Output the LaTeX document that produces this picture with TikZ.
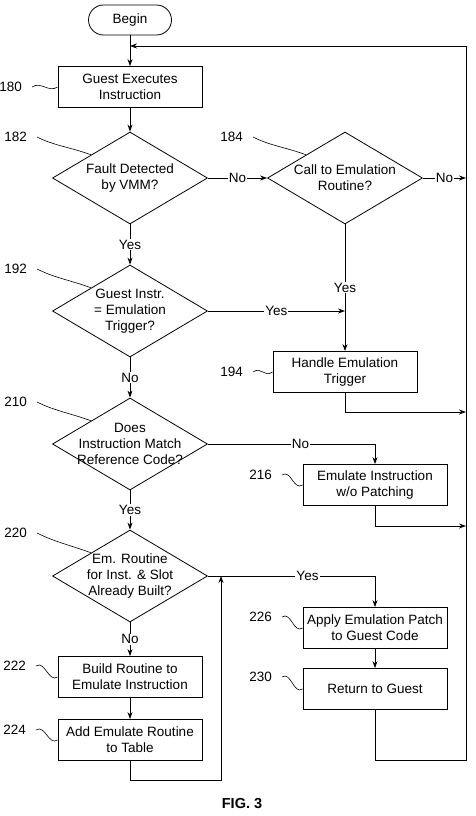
\documentclass[tikz,border=0pt]{standalone}
\usepackage{fontspec}
\setmainfont{Liberation Sans}
\usetikzlibrary{shapes.geometric,arrows.meta,positioning}

\begin{document}
\begin{tikzpicture}[
		x=1pt, y=-1pt,
		font=\fontsize{13.5}{16}\selectfont,
		main/.style={
			line width=0.8pt,
			color=black
			},
		flow/.style={main, -{Stealth[length=7pt,width=5pt]}},
		lead/.style={main, line width=0.6pt},
		term/.style={main, draw, rectangle, rounded corners=15pt, minimum width=83pt, minimum height=30pt, inner sep=0pt},
		process/.style={main, draw, rectangle, minimum width=144pt, minimum height=41pt, inner sep=0pt, align=center},
		decision/.style={main, draw, diamond, minimum width=155pt, minimum height=92pt, inner xsep=-40pt, inner ysep=-20pt, align=center},
		refnum/.style={anchor=east, inner sep=0pt},
		answer/.style={fill=white, inner sep=1pt}
		]
		
		\useasboundingbox (0,0) rectangle (475,816);
		
		\node[term] (begin) at (130,20) {Begin};
		\node[process] (p180) at (130,87) {Guest Executes\\Instruction};
		\node[decision] (d182) at (130,178) {Fault Detected\\by VMM?};
		\node[decision] (d184) at (345,178) {Call to Emulation\\Routine?};
		\node[decision] (d192) at (130,311) {Guest Instr.\\= Emulation\\Trigger?};
		\node[process] (p194) at (345,372) {Handle Emulation\\Trigger};
		\node[decision] (d210) at (130,444) {Does\\Instruction Match\\Reference Code?};
		\node[process] (p216) at (375,485) {Emulate Instruction\\w/o Patching};
		\node[decision] (d220) at (130,576) {Em. Routine\\for Inst. \& Slot\\Already Built?};
		\node[process] (p222) at (130,677) {Build Routine to\\Emulate Instruction};
		\node[process] (p224) at (130,740) {Add Emulate Routine\\to Table};
		\node[process] (p226) at (375,628) {Apply Emulation Patch\\to Guest Code};
		\node[process] (p230) at (375,689) {Return to Guest};
		
		\node[refnum] (n180) at (22,87) {180};
		\node[refnum] (n182) at (27,137) {182};
		\node[refnum] (n184) at (243,137) {184};
		\node[refnum] (n192) at (27,269) {192};
		\node[refnum] (n194) at (243,372) {194};
		\node[refnum] (n210) at (27,402) {210};
		\node[refnum] (n216) at (272,475) {216};
		\node[refnum] (n220) at (27,533) {220};
		\node[refnum] (n222) at (26,666) {222};
		\node[refnum] (n224) at (26,730) {224};
		\node[refnum] (n226) at (272,617) {226};
		\node[refnum] (n230) at (272,677) {230};
		
		\node[font=\fontsize{14.5}{17}\selectfont\bfseries] (fig) at (242,804) {FIG. 3};
		
		\coordinate (rail top) at (466,46);
		\coordinate (rail bot) at (466,760);
		\coordinate (ltop) at (begin.south |- rail top);
		\coordinate (j184) at (d184.east -| rail top);
		\coordinate (j192) at (d192.east -| d184);
		\coordinate (j194) at (466,412);
		\coordinate (j216) at (466,526);
		\coordinate (j224) at (221,780);
		\coordinate (m220) at (221,576);
		
		\draw[flow] (begin) -- (p180);
		\draw[flow] (p180) -- (d182);
		\draw[flow] (d182) -- node[answer] {No} (d184);
		\draw[flow] (d184) -- node[answer] {No} (j184);
		\draw[flow] (d182) -- node[answer] {Yes} (d192);
		\draw[flow] (d192) -- node[answer] {Yes} (j192);
		\draw[flow] (d184) -- node[answer] {Yes} (p194);
		\draw[flow] (p194) |- (j194);
		\draw[flow] (d192) -- node[answer] {No} (d210);
		\draw[flow] (d210) -| node[answer, pos=0.277] {No} (p216);
		\draw[flow] (p216) |- (j216);
		\draw[flow] (d210) -- node[answer] {Yes} (d220);
		\draw[flow] (d220) -| node[answer, pos=0.298] {Yes} (p226);
		\draw[flow] (d220) -- node[answer] {No} (p222);
		\draw[flow] (p222) -- (p224);
		\draw[flow] (p224) |- (j224) -- (m220);
		\draw[flow] (p226) -- (p230);
		\draw[flow] (p230) |- (rail bot) -- (rail top) -- (ltop);
		
		\draw[lead] ([xshift=10pt]n180.east) .. controls +(9,-6) and +(-9,6) .. (p180.west);
		\draw[lead] ([xshift=10pt]n222.east) .. controls +(9,-6) and +(-9,6) .. (p222.west);
		\draw[lead] ([xshift=10pt]n224.east) .. controls +(9,-6) and +(-9,6) .. (p224.west);
		\draw[lead] ([xshift=10pt]n194.east) .. controls +(9,-6) and +(-9,6) .. (p194.west);
		\draw[lead] ([xshift=10pt]n216.east) .. controls +(9,-6) and +(-9,6) .. (p216.west);
		\draw[lead] ([xshift=10pt]n226.east) .. controls +(9,-6) and +(-9,6) .. (p226.west);
		\draw[lead] ([xshift=10pt]n230.east) .. controls +(9,-6) and +(-9,6) .. (p230.west);
		
		\draw[lead] ([xshift=10pt]n182.east) .. controls +(18,9) and +(-22,-8) .. (d182.north west);
		\draw[lead] ([xshift=10pt]n184.east) .. controls +(18,9) and +(-22,-8) .. (d184.north west);
		\draw[lead] ([xshift=10pt]n192.east) .. controls +(18,9) and +(-22,-8) .. (d192.north west);
		\draw[lead] ([xshift=10pt]n210.east) .. controls +(18,9) and +(-22,-8) .. (d210.north west);
		\draw[lead] ([xshift=10pt]n220.east) .. controls +(18,9) and +(-22,-8) .. (d220.north west);
	\end{tikzpicture}
\end{document}
